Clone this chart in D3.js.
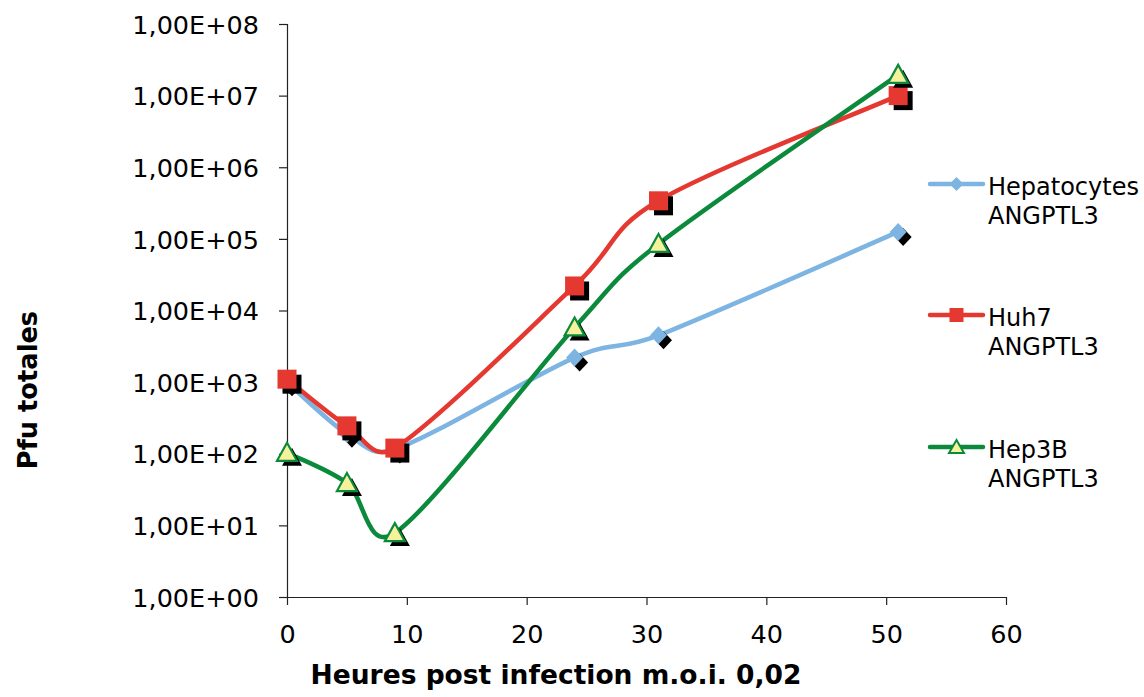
<!DOCTYPE html>
<html><head><meta charset="utf-8">
<script src="https://cdn.jsdelivr.net/npm/d3@7"></script>
<style>body{margin:0;background:#fff}svg{display:block}text{font-family:"DejaVu Sans",Verdana,sans-serif}</style>
</head><body>
<svg id="c" width="1144" height="697"></svg>
<script>
const hours = [0, 5, 9, 24, 31, 51];
const hepatocytes = [1000, 190, 115, 2200, 4500, 125000];
const huh7 = [1100, 245, 120, 22000, 340000, 10000000];
const hep3b = [103, 39, 7.8, 5800, 85000, 19500000];
const seriesNames = [["Hepatocytes", "ANGPTL3"], ["Huh7", "ANGPTL3"], ["Hep3B", "ANGPTL3"]];
const xTicks = [0, 10, 20, 30, 40, 50, 60];
const yTicks = [1, 10, 100, 1000, 1e4, 1e5, 1e6, 1e7, 1e8];
const yTickLabels = ["1,00E+00","1,00E+01","1,00E+02","1,00E+03","1,00E+04","1,00E+05","1,00E+06","1,00E+07","1,00E+08"];
const xTitle = "Heures post infection m.o.i. 0,02";
const yTitle = "Pfu totales";

const svg = d3.select("#c");
const x = d3.scaleLinear().domain([0, 60]).range([287, 1006]);
const y = d3.scaleLog().domain([1, 1e8]).range([597, 24]);

const axisColor = "#222";
const ya = svg.append("g").attr("transform", "translate(287,0)")
  .call(d3.axisLeft(y).tickValues(yTicks).tickFormat((d, i) => yTickLabels[i]).tickSize(8).tickPadding(20));
ya.selectAll("text").attr("font-size", 25.5).attr("fill", "#000").attr("dy", "0.36em");
const xa = svg.append("g").attr("transform", "translate(0,597)")
  .call(d3.axisBottom(x).tickValues(xTicks).tickSize(8).tickPadding(20));
xa.selectAll("text").attr("font-size", 25.5).attr("fill", "#000");
svg.selectAll(".domain").attr("stroke", axisColor).attr("stroke-width", 1.2);
svg.selectAll(".tick line").attr("stroke", axisColor).attr("stroke-width", 1.2);
ya.select(".domain").attr("d", "M0.5,24V597");
xa.select(".domain").attr("d", "M287,0.5H1006");

svg.append("text").attr("x", 556).attr("y", 684).attr("text-anchor", "middle")
  .attr("font-weight", "bold").attr("font-size", 26.5).text(xTitle);
svg.append("text").attr("transform", "translate(37,390) rotate(-90)").attr("text-anchor", "middle")
  .attr("font-weight", "bold").attr("font-size", 25.7).text(yTitle);

const series = [
  {vals: hepatocytes, color: "#7db4e2", marker: "diamond", fill: "#7db4e2", stroke: "none"},
  {vals: huh7, color: "#e43831", marker: "square", fill: "#e43831", stroke: "none"},
  {vals: hep3b, color: "#0b8a3c", marker: "triangle", fill: "#f6f29c", stroke: "#0b8a3c"}
];

function markerPath(type) {
  if (type === "diamond") return "M0,-9L8.5,0L0,9L-8.5,0Z";
  if (type === "square") return "M-9.5,-9.5H9.5V9.5H-9.5Z";
  return "M0,-10L10,8L-10,8Z";
}

// Excel-style smoothed line: Bezier segments with control offsets limited to half the segment length
function smoothPath(p) {
  const path = d3.path();
  const dist = (a, b) => Math.hypot(b[0] - a[0], b[1] - a[1]);
  path.moveTo(p[0][0], p[0][1]);
  for (let i = 0; i < p.length - 1; i++) {
    const p0 = p[Math.max(i - 1, 0)], p1 = p[i], p2 = p[i + 1], p3 = p[Math.min(i + 2, p.length - 1)];
    const d12 = dist(p1, p2), d02 = dist(p0, p2), d13 = dist(p1, p3);
    const f1 = d02 > 0 ? Math.min(1 / 6, d12 / (2 * d02)) : 0;
    const f2 = d13 > 0 ? Math.min(1 / 6, d12 / (2 * d13)) : 0;
    const c1 = [p1[0] + f1 * (p2[0] - p0[0]), p1[1] + f1 * (p2[1] - p0[1])];
    const c2 = [p2[0] - f2 * (p3[0] - p1[0]), p2[1] - f2 * (p3[1] - p1[1])];
    path.bezierCurveTo(c1[0], c1[1], c2[0], c2[1], p2[0], p2[1]);
  }
  return path.toString();
}

series.forEach(s => {
  const pts = hours.map((h, i) => [h, s.vals[i]]);
  const px = pts.map(d => [x(d[0]), y(d[1])]);
  const g = svg.append("g");
  g.append("path").attr("d", smoothPath(px)).attr("fill", "none").attr("stroke", s.color)
    .attr("stroke-width", 4.5).attr("stroke-linejoin", "round").attr("stroke-linecap", "round");
  g.selectAll(".sh").data(pts).join("path")
    .attr("transform", d => `translate(${x(d[0]) + 5},${y(d[1]) + 5})`)
    .attr("d", markerPath(s.marker)).attr("fill", "#000");
  g.selectAll(".mk").data(pts).join("path")
    .attr("transform", d => `translate(${x(d[0])},${y(d[1])})`)
    .attr("d", markerPath(s.marker)).attr("fill", s.fill)
    .attr("stroke", s.stroke).attr("stroke-width", 2.2).attr("stroke-linejoin", "miter");
});

const legendBase = [195, 326, 458];
series.forEach((s, i) => {
  const ly = legendBase[i] - 11;
  const g = svg.append("g");
  g.append("line").attr("x1", 930).attr("x2", 983).attr("y1", ly).attr("y2", ly)
    .attr("stroke", s.color).attr("stroke-width", 4.5).attr("stroke-linecap", "round");
  const mp = s.marker === "triangle" ? "M0,-7L7.5,6L-7.5,6Z" : (s.marker === "square" ? "M-7,-7H7V7H-7Z" : "M0,-7L7,0L0,7L-7,0Z");
  g.append("path").attr("transform", `translate(956.5,${ly})`).attr("d", mp)
    .attr("fill", s.fill).attr("stroke", s.stroke).attr("stroke-width", 2);
  seriesNames[i].forEach((t, j) => {
    g.append("text").attr("x", 988).attr("y", legendBase[i] + j * 29).attr("font-size", 24).attr("fill", "#000").text(t);
  });
});
</script>
</body></html>
